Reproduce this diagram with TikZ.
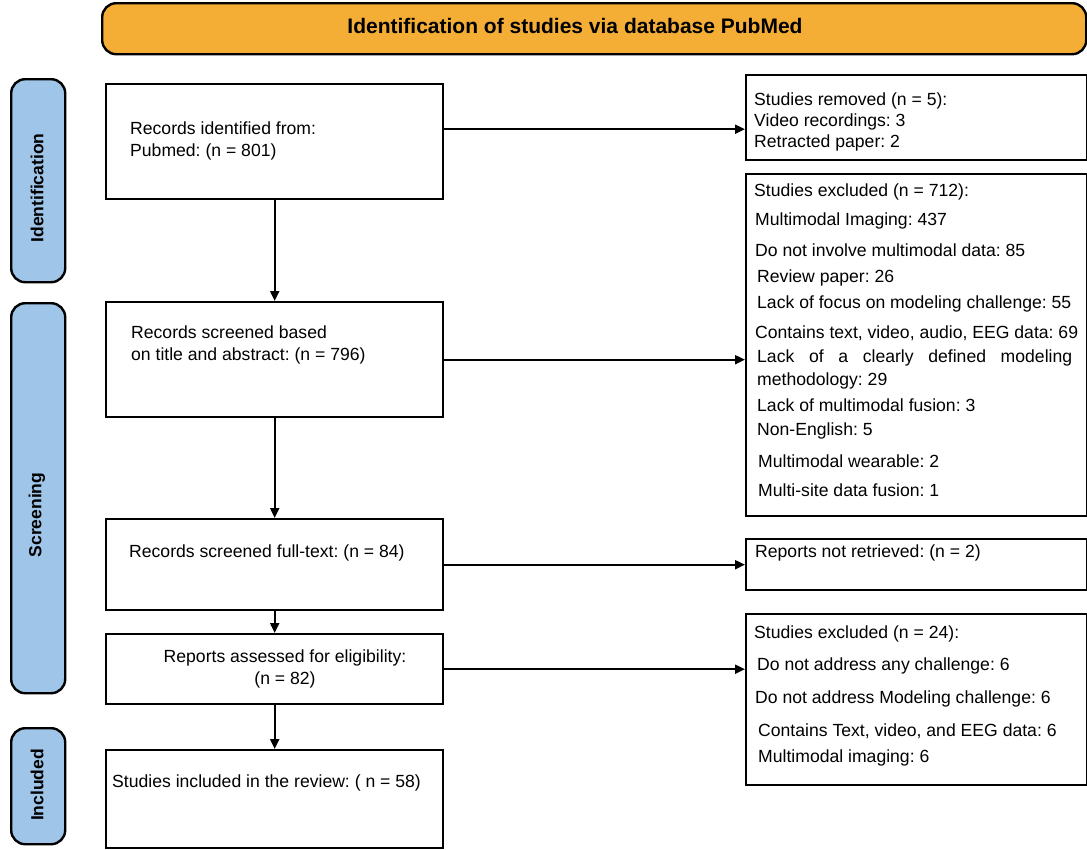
\documentclass[tikz,border=0pt]{standalone}
\usepackage{fontspec}
\setmainfont{Liberation Sans}
\frenchspacing
\usetikzlibrary{arrows.meta}
\definecolor{hdrorange}{RGB}{244,174,54}
\definecolor{phaseblue}{RGB}{159,197,232}
\tikzset{
  box/.style={draw, line width=2.4pt, anchor=north west, inner sep=0pt},
  phase/.style={draw, line width=2.4pt, fill=phaseblue, rounded corners=14pt, anchor=north west, inner sep=0pt},
  phasetxt/.style={rotate=90, inner sep=0pt, font=\bfseries\fontsize{17.5}{21}\selectfont},
  txt/.style={anchor=west, inner sep=0pt, align=left, font=\fontsize{17.6}{22}\selectfont},
  arr/.style={line width=2pt, -{Triangle[length=10pt,width=9pt]}},
}
\begin{document}
\begin{tikzpicture}[x=1pt,y=-1pt]
\useasboundingbox (0,0) rectangle (1087,849);
% header
\node[phase, fill=hdrorange, minimum width=984pt, minimum height=51pt] (hdr) at (101,2) {};
\node[inner sep=0pt, font=\bfseries\fontsize{21}{25}\selectfont] (title) at (575,26) {Identification of studies via database PubMed};
% phases
\node[phase, minimum width=54pt, minimum height=203pt] (pid) at (10,78) {};
\node[phasetxt] (pidtxt) at (37,188) {Identification};
\node[phase, minimum width=54pt, minimum height=390pt] (psc) at (10,302) {};
\node[phasetxt] (psctxt) at (37,515) {Screening};
\node[phase, minimum width=54pt, minimum height=116pt] (pin) at (10,727) {};
\node[phasetxt] (pintxt) at (37,785) {Included};
% main column
\node[box, minimum width=337pt, minimum height=115pt] (b1) at (105,83) {};
\node[txt] (t1) at (130,141) {Records identified from:\\Pubmed: (n = 801)};
\node[box, minimum width=337pt, minimum height=115pt] (b2) at (105,301) {};
\node[txt] (t2) at (131,344.5) {Records screened based\\on title and abstract: (n = 796)};
\node[box, minimum width=337pt, minimum height=91pt] (b3) at (105,518) {};
\node[txt] (t3) at (129,553) {Records screened full-text: (n = 84)};
\node[box, minimum width=337pt, minimum height=70pt] (b4) at (105,633) {};
\node[txt, anchor=center, align=center] (t4) at (285,669) {Reports assessed for eligibility:\\(n = 82)};
\node[box, minimum width=337pt, minimum height=98pt] (b5) at (105,749) {};
\node[txt] (t5) at (112,783) {Studies included in the review: ( n = 58)};
% right column
\node[box, minimum width=341pt, minimum height=85pt] (rm) at (745,74) {};
\node[txt] (rm1) at (754,101) {Studies removed (n = 5):};
\node[txt] (rm2) at (754,122) {Video recordings: 3};
\node[txt] (rm3) at (754,143) {Retracted paper: 2};
\node[box, minimum width=341pt, minimum height=342pt] (ex1) at (745,173) {};
\node[txt] (ex1a) at (754,192) {Studies excluded (n = 712):};
\node[txt] (ex1b) at (755,221) {Multimodal Imaging: 437};
\node[txt] (ex1c) at (755,250) {Do not involve multimodal data: 85};
\node[txt] (ex1d) at (757,278) {Review paper: 26};
\node[txt] (ex1e) at (757,304) {Lack of focus on modeling challenge: 55};
\node[txt] (ex1f) at (755,333) {Contains text, video, audio, EEG data: 69};
\node[anchor=west, inner sep=0pt, font=\fontsize{17.6}{23}\selectfont] (ex1g) at (757,369.5)
  {\parbox{315pt}{\tolerance=10000\hyphenpenalty=10000 Lack of a clearly defined modeling methodology: 29}};
\node[txt] (ex1h) at (757,405) {Lack of multimodal fusion: 3};
\node[txt] (ex1i) at (757,431) {Non-English: 5};
\node[txt] (ex1j) at (758,461) {Multimodal wearable: 2};
\node[txt] (ex1k) at (758,490) {Multi-site data fusion: 1};
\node[box, minimum width=341pt, minimum height=51pt] (nr) at (745,538) {};
\node[txt] (nr1) at (755,553) {Reports not retrieved: (n = 2)};
\node[box, minimum width=341pt, minimum height=171pt] (ex2) at (745,613) {};
\node[txt] (ex2a) at (754,634) {Studies excluded (n = 24):};
\node[txt] (ex2b) at (757,666) {Do not address any challenge: 6};
\node[txt] (ex2c) at (755,699) {Do not address Modeling challenge: 6};
\node[txt] (ex2d) at (758,731) {Contains Text, video, and EEG data: 6};
\node[txt] (ex2e) at (758,758) {Multimodal imaging: 6};
% arrows
\draw[arr] (b1) -- (b2);
\draw[arr] (b2) -- (b3);
\draw[arr] (b3) -- (b4);
\draw[arr] (b4) -- (b5);
\coordinate (a1) at ([yshift=12.5pt]b1.east);
\draw[arr] (a1) -- (a1 -| rm.west);
\draw[arr] (b2.east) -- (b2.east -| ex1.west);
\draw[arr] (b3.east) -- (b3.east -| nr.west);
\draw[arr] (b4.east) -- (b4.east -| ex2.west);
\end{tikzpicture}
\end{document}
